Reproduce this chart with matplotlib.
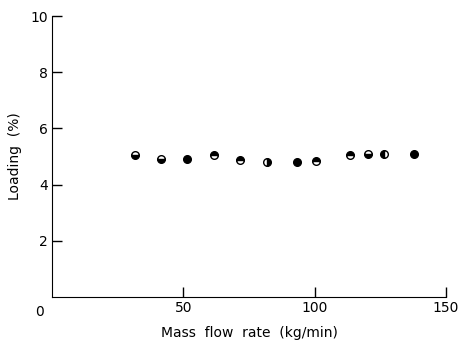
import matplotlib
matplotlib.use('Agg')
from matplotlib import pyplot as plt

# data
flow_rate = [31.5, 41.5, 51.5, 61.5, 71.5, 82.0, 93.5, 100.5, 113.5, 120.5, 126.5, 138.0]
loading = [5.05, 4.9, 4.93, 5.05, 4.87, 4.82, 4.82, 4.85, 5.05, 5.1, 5.08, 5.08]
fill = ['bottom', 'bottom', 'full', 'top', 'top', 'right',
        'full', 'top', 'top', 'bottom', 'left', 'full']

x_ticks = [50, 100, 150]
y_ticks = [2, 4, 6, 8, 10]

plt.rcParams['font.family'] = ['DejaVu Sans']

fig = plt.figure(figsize=(4.61, 3.43), dpi=100)
ax = fig.add_axes([0.113, 0.134, 0.854, 0.819])

for x, y, fs in zip(flow_rate, loading, fill):
    ax.plot(x, y, marker='o', markersize=5.5, fillstyle=fs, color='black',
            markerfacecoloralt='white', markeredgecolor='black',
            markeredgewidth=1.0, linestyle='none')

ax.set_xlim(0, 150)
ax.set_ylim(0, 10)
ax.set_xticks(x_ticks)
ax.set_yticks(y_ticks)
ax.spines['top'].set_visible(False)
ax.spines['right'].set_visible(False)
ax.tick_params(direction='in', length=7, width=1, labelsize=10, pad=3)
ax.text(-0.02, -0.03, '0', transform=ax.transAxes, ha='right', va='top', fontsize=10)

ax.set_xlabel('Mass  flow  rate  (kg/min)', fontsize=10, labelpad=8)
ax.set_ylabel('Loading  (%)', fontsize=10, labelpad=6)

fig.savefig('out.png', dpi=100)
